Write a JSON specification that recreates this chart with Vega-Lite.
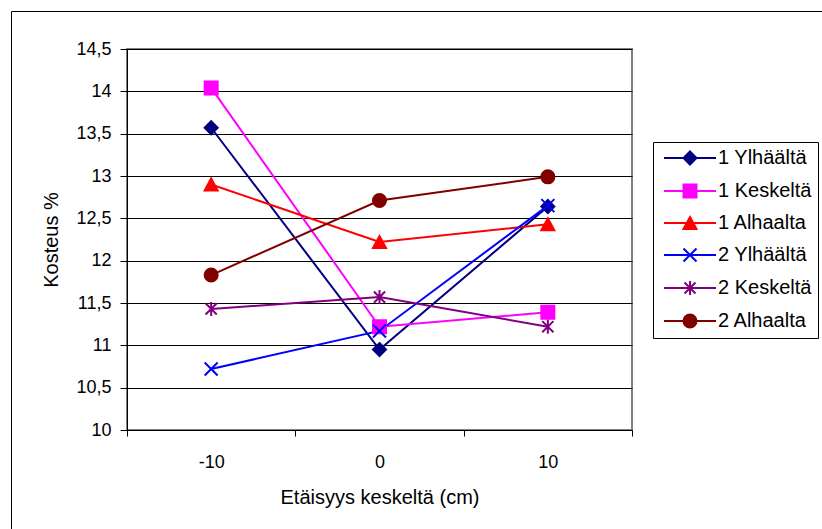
{
  "$schema": "https://vega.github.io/schema/vega-lite/v6.json",
  "width": 505,
  "height": 381,
  "autosize": {"type": "none"},
  "padding": {"left": 127, "top": 49, "right": 190, "bottom": 99},
  "background": "white",
  "config": {
    "font": "Liberation Sans",
    "view": {"stroke": "#808080", "strokeWidth": 2},
    "axis": {
      "labelFont": "Liberation Sans",
      "titleFont": "Liberation Sans",
      "labelColor": "#000",
      "titleColor": "#000",
      "titleFontWeight": "normal",
      "domainColor": "#000",
      "domainWidth": 1,
      "tickColor": "#000",
      "tickWidth": 1
    },
    "legend": {
      "labelFont": "Liberation Sans",
      "labelFontSize": 20,
      "labelColor": "#000",
      "symbolSize": 100,
      "symbolStrokeWidth": 2,
      "symbolOpacity": 1,
      "padding": 6,
      "rowPadding": 11,
      "symbolOffset": 21,
      "labelOffset": 18,
      "strokeColor": "#000",
      "fillColor": "white"
    }
  },
  "layer": [
    {
      "data": {
        "values": [
          {"sarja": "1 Ylhäältä", "x": -10, "kosteus": 13.57},
          {"sarja": "1 Ylhäältä", "x": 0, "kosteus": 10.95},
          {"sarja": "1 Ylhäältä", "x": 10, "kosteus": 12.64},
          {"sarja": "1 Keskeltä", "x": -10, "kosteus": 14.04},
          {"sarja": "1 Keskeltä", "x": 0, "kosteus": 11.22},
          {"sarja": "1 Keskeltä", "x": 10, "kosteus": 11.39},
          {"sarja": "1 Alhaalta", "x": -10, "kosteus": 12.9},
          {"sarja": "1 Alhaalta", "x": 0, "kosteus": 12.22},
          {"sarja": "1 Alhaalta", "x": 10, "kosteus": 12.43},
          {"sarja": "2 Ylhäältä", "x": -10, "kosteus": 10.72},
          {"sarja": "2 Ylhäältä", "x": 0, "kosteus": 11.17},
          {"sarja": "2 Ylhäältä", "x": 10, "kosteus": 12.65},
          {"sarja": "2 Keskeltä", "x": -10, "kosteus": 11.43},
          {"sarja": "2 Keskeltä", "x": 0, "kosteus": 11.57},
          {"sarja": "2 Keskeltä", "x": 10, "kosteus": 11.22},
          {"sarja": "2 Alhaalta", "x": -10, "kosteus": 11.83},
          {"sarja": "2 Alhaalta", "x": 0, "kosteus": 12.71},
          {"sarja": "2 Alhaalta", "x": 10, "kosteus": 12.99}
        ]
      },
      "encoding": {
        "x": {
          "field": "x",
          "type": "quantitative",
          "scale": {"domain": [-15, 15], "nice": false, "zero": false},
          "axis": {
            "values": [-15, -10, -5, 0, 5, 10, 15],
            "title": "Etäisyys keskeltä (cm)",
            "grid": false,
            "labelExpr": "datum.value % 10 == 0 ? '' + datum.value : ''",
            "tickOpacity": {"condition": {"test": "datum.value % 10 != 0", "value": 1}, "value": 0},
            "tickSize": 6,
            "labelFontSize": 18,
            "labelPadding": 17,
            "titleFontSize": 20,
            "titlePadding": 16,
            "labelFlush": false,
            "labelOverlap": false
          }
        },
        "y": {
          "field": "kosteus",
          "type": "quantitative",
          "scale": {"domain": [10, 14.5], "nice": false, "zero": false},
          "axis": {
            "values": [10, 10.5, 11, 11.5, 12, 12.5, 13, 13.5, 14, 14.5],
            "title": "Kosteus %",
            "grid": true,
            "gridColor": "#000",
            "gridWidth": 1,
            "gridOpacity": 1,
            "labelExpr": "replace('' + datum.value, '.', ',')",
            "tickSize": 7,
            "labelPadding": 9,
            "labelFontSize": 18,
            "titleFontSize": 20,
            "titlePadding": 14,
            "labelFlush": false,
            "labelOverlap": false
          }
        }
      },
      "layer": [
        {
          "mark": {"type": "line", "strokeWidth": 2},
          "encoding": {
            "color": {
              "field": "sarja",
              "type": "nominal",
              "scale": {
                "domain": ["1 Ylhäältä", "1 Keskeltä", "1 Alhaalta", "2 Ylhäältä", "2 Keskeltä", "2 Alhaalta"],
                "range": ["#000080", "#FF00FF", "#FF0000", "#0000FF", "#800080", "#800000"]
              },
              "legend": null
            }
          }
        },
        {
          "mark": {"type": "point", "filled": true, "size": 196, "strokeWidth": 2, "opacity": 1},
          "encoding": {
            "color": {"field": "sarja", "type": "nominal", "legend": null},
            "stroke": {
              "field": "sarja",
              "type": "nominal",
              "scale": {
                "domain": ["1 Ylhäältä", "1 Keskeltä", "1 Alhaalta", "2 Ylhäältä", "2 Keskeltä", "2 Alhaalta"],
                "range": ["#000080", "#FF00FF", "#FF0000", "#0000FF", "#800080", "#800000"]
              },
              "legend": null
            },
            "shape": {
              "field": "sarja",
              "type": "nominal",
              "scale": {
                "domain": ["1 Ylhäältä", "1 Keskeltä", "1 Alhaalta", "2 Ylhäältä", "2 Keskeltä", "2 Alhaalta"],
                "range": [
                  "M0,-0.93L0.93,0L0,0.93L-0.93,0Z",
                  "M-0.93,-0.93H0.93V0.93H-0.93Z",
                  "M0,-0.86L0.93,0.86H-0.93Z",
                  "M-0.93,-0.93L0.93,0.93M-0.93,0.93L0.93,-0.93",
                  "M-0.8,-0.8L0.8,0.8M-0.8,0.8L0.8,-0.8M0,-1L0,1",
                  "M0.93,0A0.93,0.93,0,1,1,-0.93,0A0.93,0.93,0,1,1,0.93,0Z"
                ]
              },
              "legend": null
            }
          }
        },
        {
          "mark": {
            "type": "point",
            "filled": true,
            "size": 100,
            "strokeWidth": 2,
            "opacity": 0,
            "fill": {"expr": "scale('color', datum.value)"},
            "stroke": {"expr": "scale('color', datum.value)"}
          },
          "encoding": {
            "shape": {
              "field": "sarja",
              "type": "nominal",
              "scale": {
                "domain": ["1 Ylhäältä", "1 Keskeltä", "1 Alhaalta", "2 Ylhäältä", "2 Keskeltä", "2 Alhaalta"],
                "range": [
                  "M-5.2,0H5.2M0,-1.3L1.3,0L0,1.3L-1.3,0Z",
                  "M-5.2,0H5.2M-1.3,-1.3H1.3V1.3H-1.3Z",
                  "M-5.2,0H5.2M0,-1.2L1.3,1.2H-1.3Z",
                  "M-5.2,0H5.2M-1.3,-1.3L1.3,1.3M-1.3,1.3L1.3,-1.3",
                  "M-5.2,0H5.2M-1.1,-1.1L1.1,1.1M-1.1,1.1L1.1,-1.1M0,-1.4V1.4",
                  "M-5.2,0H5.2M1.3,0A1.3,1.3,0,1,1,-1.3,0A1.3,1.3,0,1,1,1.3,0Z"
                ]
              },
              "legend": {
                "title": null,
                "orient": "none",
                "legendX": 526,
                "legendY": 93,
                "symbolOpacity": 1
              }
            }
          }
        }
      ],
      "resolve": {"scale": {"shape": "independent"}}
    },
    {
      "data": {"values": [{"a": 0}]},
      "mark": {"type": "point", "opacity": 0},
      "encoding": {
        "x": {
          "field": "a",
          "type": "quantitative",
          "scale": {"domain": [0, 1], "range": [-116, 800]},
          "axis": {"orient": "top", "offset": 38, "ticks": false, "labels": false, "title": null, "grid": false, "domainColor": "#000", "domainWidth": 1}
        },
        "y": {
          "field": "a",
          "type": "quantitative",
          "scale": {"domain": [0, 1], "range": [600, -38]},
          "axis": {"orient": "left", "offset": 116, "ticks": false, "labels": false, "title": null, "grid": false, "domainColor": "#000", "domainWidth": 1}
        }
      }
    }
  ],
  "resolve": {"scale": {"x": "independent", "y": "independent"}, "axis": {"x": "independent", "y": "independent"}}
}
